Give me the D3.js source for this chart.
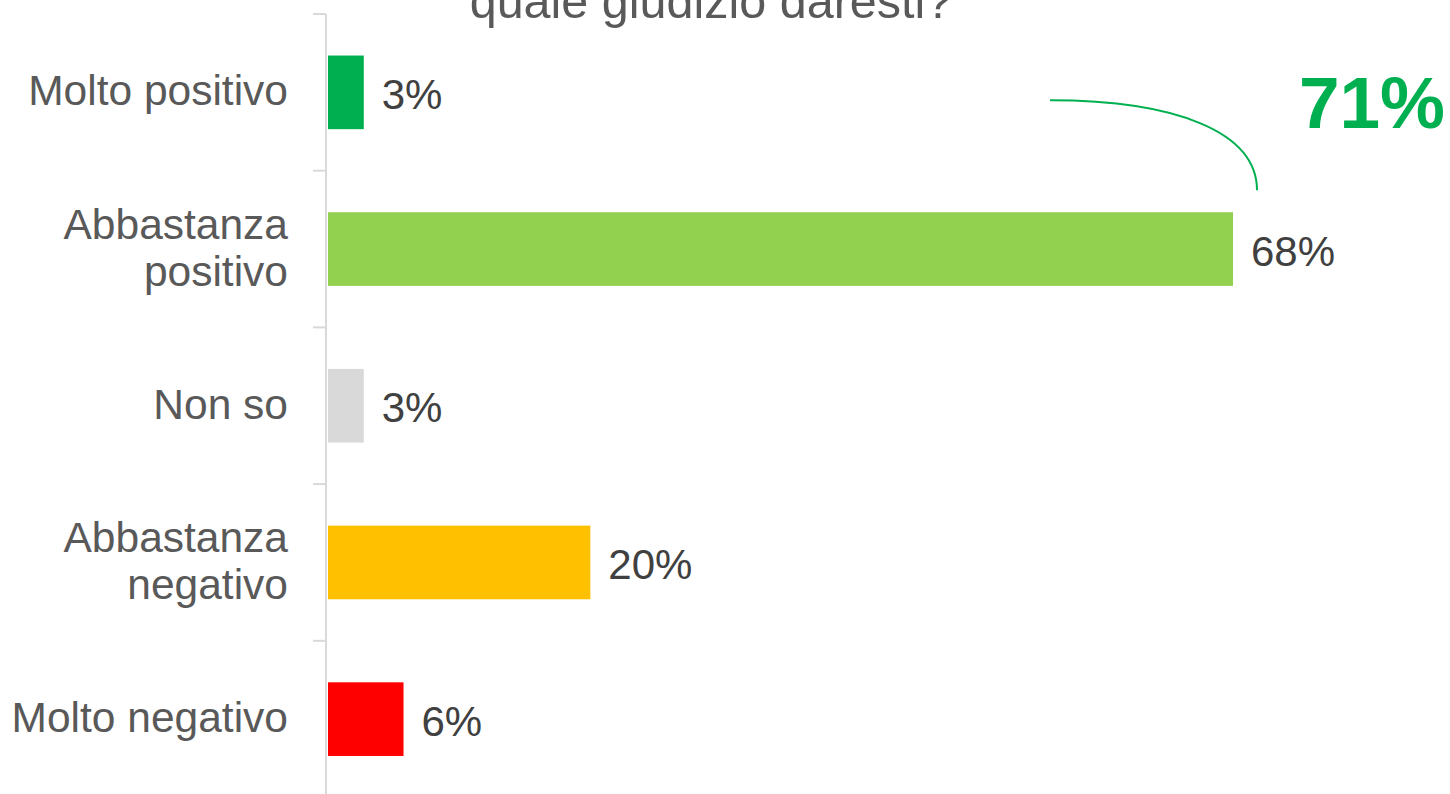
<!DOCTYPE html>
<html>
<head>
<meta charset="utf-8">
<script src="https://cdn.jsdelivr.net/npm/d3@7"></script>
<style>
  html, body { margin: 0; padding: 0; background: #fff; }
  svg { display: block; font-family: "Liberation Sans", Arial, sans-serif; }
</style>
</head>
<body>
<svg id="chart" width="1450" height="794"></svg>
<script>
// data
const categories = ['Molto positivo', 'Abbastanza positivo', 'Non so', 'Abbastanza negativo', 'Molto negativo'];
const categoryLines = [['Molto positivo'], ['Abbastanza', 'positivo'], ['Non so'], ['Abbastanza', 'negativo'], ['Molto negativo']];
const values = [2.7, 68.3, 2.7, 19.8, 5.7];
const labels = ['3%', '68%', '3%', '20%', '6%'];
const colors = ['#00B050', '#92D050', '#D9D9D9', '#FFC000', '#FF0000'];
const titleText = 'quale giudizio daresti?';
const totalPositive = '71%';

const width = 1450, height = 794;
const axisX = 326;

const svg = d3.select('#chart');

const x = d3.scaleLinear()
  .domain([0, 68.3])
  .range([axisX + 2, 1233]);

const y = d3.scaleBand()
  .domain(categories)
  .range([14, 797.5])
  .paddingInner(0.53)
  .paddingOuter(0.265);

// title (partly outside the top edge, as in the original slide)
svg.append('text')
  .attr('x', 711)
  .attr('y', 18)
  .attr('text-anchor', 'middle')
  .attr('font-size', '48.5px')
  .attr('fill', '#595959')
  .text(titleText);

// axis line and ticks between categories
const tickYs = d3.range(categories.length + 1).map((i) => 14 + i * y.step());
svg.append('line')
  .attr('x1', axisX).attr('x2', axisX)
  .attr('y1', 14).attr('y2', height)
  .attr('stroke', '#D9D9D9')
  .attr('stroke-width', 2);

svg.append('g')
  .selectAll('line')
  .data(tickYs)
  .join('line')
  .attr('x1', axisX - 13).attr('x2', axisX)
  .attr('y1', (d) => d).attr('y2', (d) => d)
  .attr('stroke', '#D9D9D9')
  .attr('stroke-width', 2);

// bars
svg.append('g')
  .selectAll('rect')
  .data(values)
  .join('rect')
  .attr('x', x(0))
  .attr('y', (d, i) => y(categories[i]))
  .attr('width', (d) => x(d) - x(0))
  .attr('height', y.bandwidth())
  .attr('fill', (d, i) => colors[i]);

// value labels
svg.append('g')
  .selectAll('text')
  .data(values)
  .join('text')
  .attr('x', (d) => x(d) + 18)
  .attr('y', (d, i) => y(categories[i]) + y.bandwidth() / 2 + 2)
  .attr('dy', '0.35em')
  .attr('font-size', '42px')
  .attr('fill', '#404040')
  .text((d, i) => labels[i]);

// category labels
const cat = svg.append('g')
  .selectAll('text')
  .data(categoryLines)
  .join('text')
  .attr('text-anchor', 'end')
  .attr('font-size', '42.5px')
  .attr('fill', '#595959')
  .attr('transform', (d, i) => `translate(288,${y(categories[i]) + y.bandwidth() / 2})`);

cat.selectAll('tspan')
  .data((d) => d.map((t, j) => ({ t, j, n: d.length })))
  .join('tspan')
  .attr('x', 0)
  .attr('y', (d) => 13 + (d.j - (d.n - 1) / 2) * 47)
  .text((d) => d.t);

// annotation: sum of positive answers
const c0 = y(categories[0]) + y.bandwidth() / 2;
const endX = x(values[1]) + 24;
const endY = y(categories[1]) - 22;
svg.append('path')
  .attr('d', `M1050,${c0 + 8} C${endX - 80},${c0 + 8} ${endX},${c0 + 40} ${endX},${endY}`)
  .attr('fill', 'none')
  .attr('stroke', '#00B050')
  .attr('stroke-width', 2);

svg.append('text')
  .attr('x', 1445)
  .attr('y', 128)
  .attr('text-anchor', 'end')
  .attr('font-size', '73px')
  .attr('font-weight', 'bold')
  .attr('fill', '#00B050')
  .text(totalPositive);
</script>
</body>
</html>
